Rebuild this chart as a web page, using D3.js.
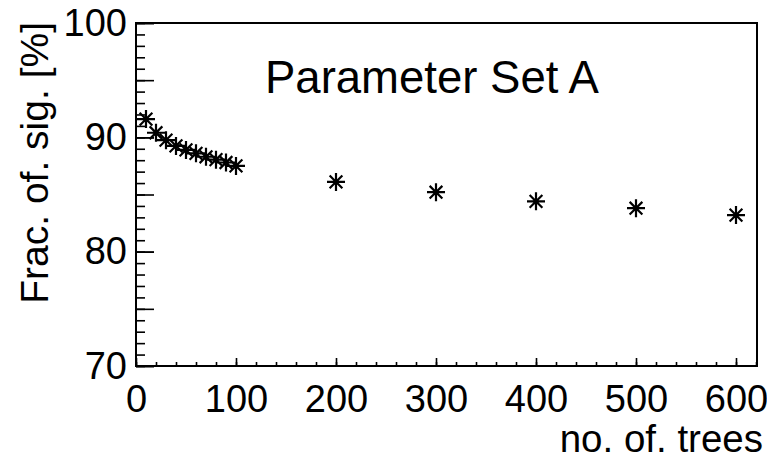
<!DOCTYPE html>
<html>
<head>
<meta charset="utf-8">
<script src="https://cdn.jsdelivr.net/npm/d3@7"></script>
<style>
  html, body { margin: 0; padding: 0; background: #fff; }
  svg { display: block; }
  text { font-family: "Liberation Sans", Arial, sans-serif; fill: #000; }
</style>
</head>
<body>
<script>
// Number of trees in the ensemble and the signal fraction kept (%)
const nTrees = [10, 20, 30, 40, 50, 60, 70, 80, 90, 100, 200, 300, 400, 500, 600];
const sigFrac = [91.6, 90.4, 89.75, 89.25, 88.9, 88.6, 88.3, 88.05, 87.8, 87.5, 86.1, 85.2, 84.4, 83.8, 83.2];

const xTicks = [0, 100, 200, 300, 400, 500, 600];
const yTicks = [70, 80, 90, 100];
const xDomain = [0, 621];
const yDomain = [70, 100];

const W = 767, H = 461;
const frame = { left: 136, right: 757, top: 23, bottom: 366 };

const svg = d3.select("body").append("svg")
  .attr("width", W).attr("height", H);

const x = d3.scaleLinear().domain(xDomain).range([frame.left, frame.right]);
const y = d3.scaleLinear().domain(yDomain).range([frame.bottom, frame.top]);

const fs = 38;

// Minor ticks (x every 20, y every 1)
svg.append("g")
  .attr("transform", `translate(0,${frame.bottom})`)
  .call(d3.axisBottom(x).tickValues(d3.range(0, 621, 20)).tickSize(-4).tickFormat(""))
  .call(g => g.select(".domain").remove())
  .call(g => g.selectAll("line").attr("stroke", "#000").attr("stroke-width", 1.6));

svg.append("g")
  .attr("transform", `translate(${frame.left},0)`)
  .call(d3.axisLeft(y).tickValues(d3.range(70, 101, 1)).tickSize(-9).tickFormat(""))
  .call(g => g.select(".domain").remove())
  .call(g => g.selectAll("line").attr("stroke", "#000").attr("stroke-width", 1.6));

// Medium ticks on y every 5
svg.append("g")
  .attr("transform", `translate(${frame.left},0)`)
  .call(d3.axisLeft(y).tickValues(d3.range(70, 101, 5)).tickSize(-18).tickFormat(""))
  .call(g => g.select(".domain").remove())
  .call(g => g.selectAll("line").attr("stroke", "#000").attr("stroke-width", 1.6));

// Major x axis with labels
svg.append("g")
  .attr("transform", `translate(0,${frame.bottom})`)
  .call(d3.axisBottom(x).tickValues(xTicks).tickSize(-8).tickPadding(19).tickFormat(d3.format("d")))
  .call(g => g.select(".domain").remove())
  .call(g => g.selectAll("line").attr("stroke", "#000").attr("stroke-width", 1.6))
  .call(g => g.selectAll("text").attr("font-size", fs).attr("fill", "#000")
    .style("font-family", "'Liberation Sans', Arial, sans-serif"));

// Major y axis with labels
svg.append("g")
  .attr("transform", `translate(${frame.left},0)`)
  .call(d3.axisLeft(y).tickValues(yTicks).tickSize(-18).tickPadding(9).tickFormat(d3.format("d")))
  .call(g => g.select(".domain").remove())
  .call(g => g.selectAll("line").attr("stroke", "#000").attr("stroke-width", 1.6))
  .call(g => g.selectAll("text").attr("font-size", fs).attr("fill", "#000")
    .style("font-family", "'Liberation Sans', Arial, sans-serif"));

// Plot frame
svg.append("rect")
  .attr("x", frame.left).attr("y", frame.top)
  .attr("width", frame.right - frame.left).attr("height", frame.bottom - frame.top)
  .attr("fill", "none").attr("stroke", "#000").attr("stroke-width", 2);

// Asterisk markers
const r = 9, d = r * Math.SQRT1_2;
const star = `M${-r},0L${r},0M0,${-r}L0,${r}M${-d},${-d}L${d},${d}M${-d},${d}L${d},${-d}`;
svg.append("g")
  .selectAll("path")
  .data(nTrees.map((n, i) => [n, sigFrac[i]]))
  .join("path")
  .attr("transform", p => `translate(${x(p[0])},${y(p[1])})`)
  .attr("d", star)
  .attr("fill", "none")
  .attr("stroke", "#000")
  .attr("stroke-width", 2.2);

// Titles
svg.append("text")
  .attr("x", 265).attr("y", 93)
  .attr("font-size", 45.5)
  .text("Parameter Set A");

svg.append("text")
  .attr("x", 763).attr("y", 452)
  .attr("text-anchor", "end")
  .attr("font-size", 38.5)
  .text("no. of. trees");

svg.append("text")
  .attr("transform", `translate(48,${frame.top - 1}) rotate(-90)`)
  .attr("text-anchor", "end")
  .attr("font-size", 39)
  .text("Frac. of. sig. [%]");
</script>
</body>
</html>
